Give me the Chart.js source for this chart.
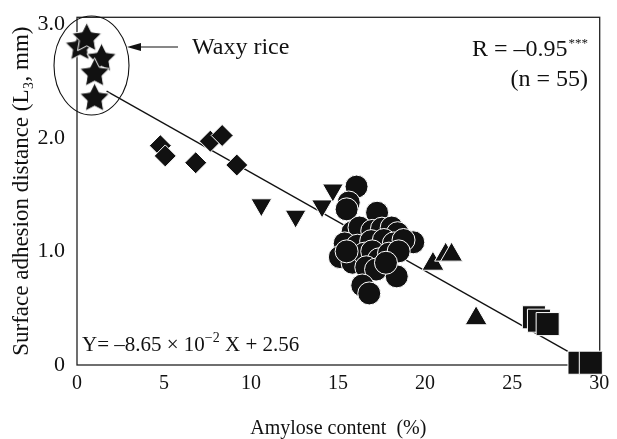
<!DOCTYPE html>
<html>
<head>
<meta charset="utf-8">
<script src="https://cdn.jsdelivr.net/npm/chart.js@4"></script>
<style>
  html, body { margin: 0; padding: 0; background: #fff; }
</style>
</head>
<body>
<canvas id="chart" width="617" height="439"></canvas>
<script>
// amylose content (%) vs surface adhesion distance (L3, mm)
const waxyRice = [[0.17, 2.81], [0.56, 2.89], [1.41, 2.71], [1.01, 2.58], [1.01, 2.36]];
const diamondGroup = [[4.79, 1.93], [5.07, 1.84], [6.82, 1.78], [7.66, 1.97], [8.34, 2.02], [9.18, 1.76]];
const downTriGroup = [[10.59, 1.41], [12.56, 1.31], [14.08, 1.40], [14.7, 1.54]];
const circleGroup = [
  [16.06, 1.57], [15.61, 1.43], [15.49, 1.37], [17.24, 1.34], [15.83, 1.17], [16.23, 1.21],
  [16.96, 1.18], [17.52, 1.20], [18.08, 1.21], [18.42, 1.16], [19.32, 1.08], [15.38, 1.07],
  [16.11, 1.05], [16.90, 1.09], [17.63, 1.10], [18.20, 1.07], [18.76, 1.10], [15.10, 0.95],
  [15.83, 0.90], [16.51, 0.98], [16.96, 1.00], [17.35, 0.93], [17.92, 0.98], [18.48, 1.00],
  [16.62, 0.86], [17.18, 0.84], [18.37, 0.78], [16.39, 0.70], [16.79, 0.63], [15.49, 1.00],
  [17.75, 0.90]
];
const upTriGroup = [[20.45, 0.89], [21.18, 0.97], [21.52, 0.97], [22.93, 0.41]];
const squareGroup = [[26.25, 0.42], [26.54, 0.39], [27.04, 0.36], [28.87, 0.02], [29.52, 0.02]];
// ends of the fitted line Y = -8.65e-2 X + 2.56
const fitLine = [[1.7, 2.41], [28.2, 0.12]];

const xTicks = [0, 5, 10, 15, 20, 25, 30];
const yTicks = [0, 1, 2, 3];

const ink = '#111';
const serif = '"Liberation Serif", "Times New Roman", serif';

function pts(arr) {
  return arr.map(p => ({x: p[0], y: p[1]}));
}

// filled five point star with a thin white rim
function starImage(R) {
  const c = document.createElement('canvas');
  const s = Math.ceil(R * 2 + 4);
  c.width = s; c.height = s;
  const g = c.getContext('2d');
  const cx = s / 2, cy = s / 2 + R * 0.1;
  const r = R * 0.5;
  g.beginPath();
  for (let i = 0; i < 10; i++) {
    const a = -Math.PI / 2 + i * Math.PI / 5;
    const rr = i % 2 === 0 ? R : r;
    g.lineTo(cx + Math.cos(a) * rr, cy + Math.sin(a) * rr);
  }
  g.closePath();
  g.fillStyle = ink;
  g.fill();
  g.strokeStyle = '#fff';
  g.lineWidth = 1;
  g.stroke();
  return c;
}

function group(data, style, radius, extra) {
  return Object.assign({
    type: 'scatter',
    data: pts(data),
    pointStyle: style,
    pointRadius: radius,
    pointHoverRadius: radius,
    backgroundColor: ink,
    borderColor: '#fff',
    borderWidth: 1,
    clip: false,
    order: 1
  }, extra || {});
}

const notes = {
  id: 'notes',
  beforeDatasetsDraw(chart) {
    const {ctx, chartArea: a} = chart;
    ctx.save();
    ctx.strokeStyle = '#222';
    ctx.lineWidth = 1.3;
    ctx.strokeRect(a.left, a.top, a.right - a.left, a.bottom - a.top);
    ctx.restore();
  },
  afterDatasetsDraw(chart) {
    const {ctx} = chart;
    ctx.save();
    ctx.strokeStyle = ink;
    ctx.fillStyle = ink;
    ctx.lineWidth = 1.1;

    // ring round the waxy samples
    ctx.beginPath();
    ctx.ellipse(91.5, 65.5, 37.5, 49.5, 0, 0, Math.PI * 2);
    ctx.stroke();

    // arrow to the ring
    ctx.beginPath();
    ctx.moveTo(178, 47);
    ctx.lineTo(136, 47);
    ctx.stroke();
    ctx.beginPath();
    ctx.moveTo(127, 47);
    ctx.lineTo(141, 43);
    ctx.lineTo(141, 51);
    ctx.closePath();
    ctx.fill();

    ctx.textBaseline = 'alphabetic';
    ctx.font = '24px ' + serif;
    ctx.textAlign = 'left';
    ctx.fillText('Waxy rice', 192, 54);

    // R and n, right aligned
    ctx.font = '13px ' + serif;
    const starsW = ctx.measureText('***').width;
    ctx.fillText('***', 588 - starsW, 47);
    ctx.font = '24px ' + serif;
    ctx.textAlign = 'right';
    ctx.fillText('R = \u20130.95', 588 - starsW - 1, 56);
    ctx.fillText('(n = 55)', 588, 86);

    // regression equation
    ctx.textAlign = 'left';
    let x = 82;
    const base = 351;
    ctx.font = '21px ' + serif;
    const p1 = 'Y= \u20138.65 \u00d7 10';
    ctx.fillText(p1, x, base);
    x += ctx.measureText(p1).width;
    ctx.font = '14px ' + serif;
    ctx.fillText('\u22122', x, base - 9);
    x += ctx.measureText('\u22122').width;
    ctx.font = '21px ' + serif;
    ctx.fillText(' X + 2.56', x, base);
    ctx.restore();
  }
};

new Chart(document.getElementById('chart'), {
  data: {
    datasets: [
      {
        type: 'line',
        data: pts(fitLine),
        borderColor: ink,
        borderWidth: 1.3,
        pointRadius: 0,
        fill: false,
        order: 10
      },
      group(waxyRice, starImage(15.5), 15),
      group(diamondGroup, 'rectRot', 11),
      group(downTriGroup, 'triangle', 12, {rotation: 180}),
      group(circleGroup, 'circle', 11.5),
      group(upTriGroup, 'triangle', 12.7),
      group(squareGroup, 'rect', 16.3)
    ]
  },
  options: {
    responsive: false,
    animation: false,
    devicePixelRatio: 1,
    layout: {padding: {top: 13, right: 7, left: 0, bottom: 0}},
    plugins: {
      legend: {display: false},
      tooltip: {enabled: false}
    },
    scales: {
      x: {
        type: 'linear',
        min: 0,
        max: 30.03,
        grid: {display: false, drawTicks: false},
        border: {display: false},
        afterBuildTicks: s => { s.ticks = xTicks.map(v => ({value: v})); },
        afterFit: s => { s.height = 74; s.paddingLeft = 0; s.paddingRight = 0; },
        ticks: {
          color: ink,
          padding: 7,
          maxRotation: 0,
          font: {family: serif, size: 20},
          callback: v => String(v)
        },
        title: {
          display: true,
          text: 'Amylose content  (%)',
          color: ink,
          font: {family: serif, size: 20, lineHeight: 1},
          padding: {top: 0, bottom: 0}
        }
      },
      y: {
        type: 'linear',
        min: 0,
        max: 3.06,
        grid: {display: false, drawTicks: false},
        border: {display: false},
        afterBuildTicks: s => { s.ticks = yTicks.map(v => ({value: v})); },
        afterFit: s => { s.width = 77; s.paddingTop = 0; s.paddingBottom = 0; },
        ticks: {
          color: ink,
          padding: 12,
          font: {family: serif, size: 22},
          callback: v => v === 0 ? '0' : v.toFixed(1)
        },
        title: {
          display: true,
          text: 'Surface adhesion distance (L\u2083, mm)',
          color: ink,
          font: {family: serif, size: 23},
          padding: {top: 8, bottom: 0}
        }
      }
    }
  },
  plugins: [notes]
});
</script>
</body>
</html>
